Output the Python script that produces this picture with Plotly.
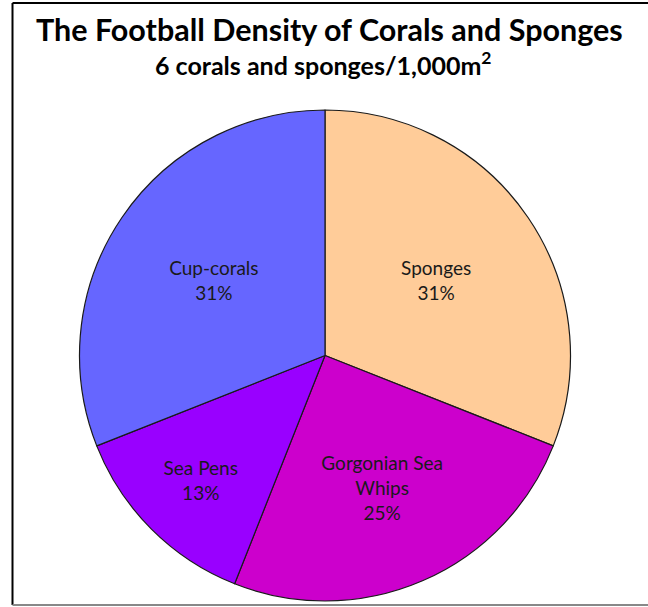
import plotly.graph_objects as go

# Share of each group in the survey area
categories = ["Sponges", "Gorgonian Sea<br>Whips", "Sea Pens", "Cup-corals"]
shares = [31, 25, 13, 31]
colors = ["#FFCC99", "#CC00CC", "#9900FF", "#6666FF"]

W, H = 648, 607
FONT = "Lato, Open Sans, Liberation Sans, sans-serif"

fig = go.Figure(
    go.Pie(
        labels=categories,
        values=shares,
        sort=False,
        direction="clockwise",
        rotation=0,
        marker=dict(colors=colors, line=dict(color="#1a1a1a", width=1.2)),
        texttemplate="%{label}<br>%{percent:.0%}",
        textposition="inside",
        insidetextorientation="horizontal",
        textfont=dict(family=FONT, size=19, color="#1a1a1a"),
        hoverinfo="label+percent",
        domain=dict(x=[(325 - 247) / W, (325 + 247) / W], y=[1 - 601 / H, 1 - 110 / H]),
        showlegend=False,
    )
)

fig.update_layout(
    width=W,
    height=H,
    margin=dict(l=0, r=0, t=0, b=0),
    paper_bgcolor="white",
    plot_bgcolor="white",
    uniformtext=dict(minsize=12, mode="show"),
    annotations=[
        dict(
            text="<b>The Football Density of Corals and Sponges</b>",
            x=329 / W, y=1 - 29 / H, xref="paper", yref="paper",
            xanchor="center", yanchor="middle", showarrow=False,
            font=dict(family=FONT, size=30.5, color="black"),
        ),
        dict(
            text="<b>6 corals and sponges/1,000m<sup>2</sup></b>",
            x=323 / W, y=1 - 64 / H, xref="paper", yref="paper",
            xanchor="center", yanchor="middle", showarrow=False,
            font=dict(family=FONT, size=25, color="black"),
        ),
    ],
    shapes=[
        dict(type="line", xref="paper", yref="paper",
             x0=12.5 / W, x1=12.5 / W, y0=1 - 3 / H, y1=1 - 605 / H,
             line=dict(color="black", width=2)),
        dict(type="line", xref="paper", yref="paper",
             x0=12.5 / W, x1=1.01, y0=1 - 3 / H, y1=1 - 3 / H,
             line=dict(color="black", width=2)),
        dict(type="line", xref="paper", yref="paper",
             x0=12.5 / W, x1=1.01, y0=1 - 605 / H, y1=1 - 605 / H,
             line=dict(color="#888888", width=2)),
    ],
)

fig.write_html("out.html")
